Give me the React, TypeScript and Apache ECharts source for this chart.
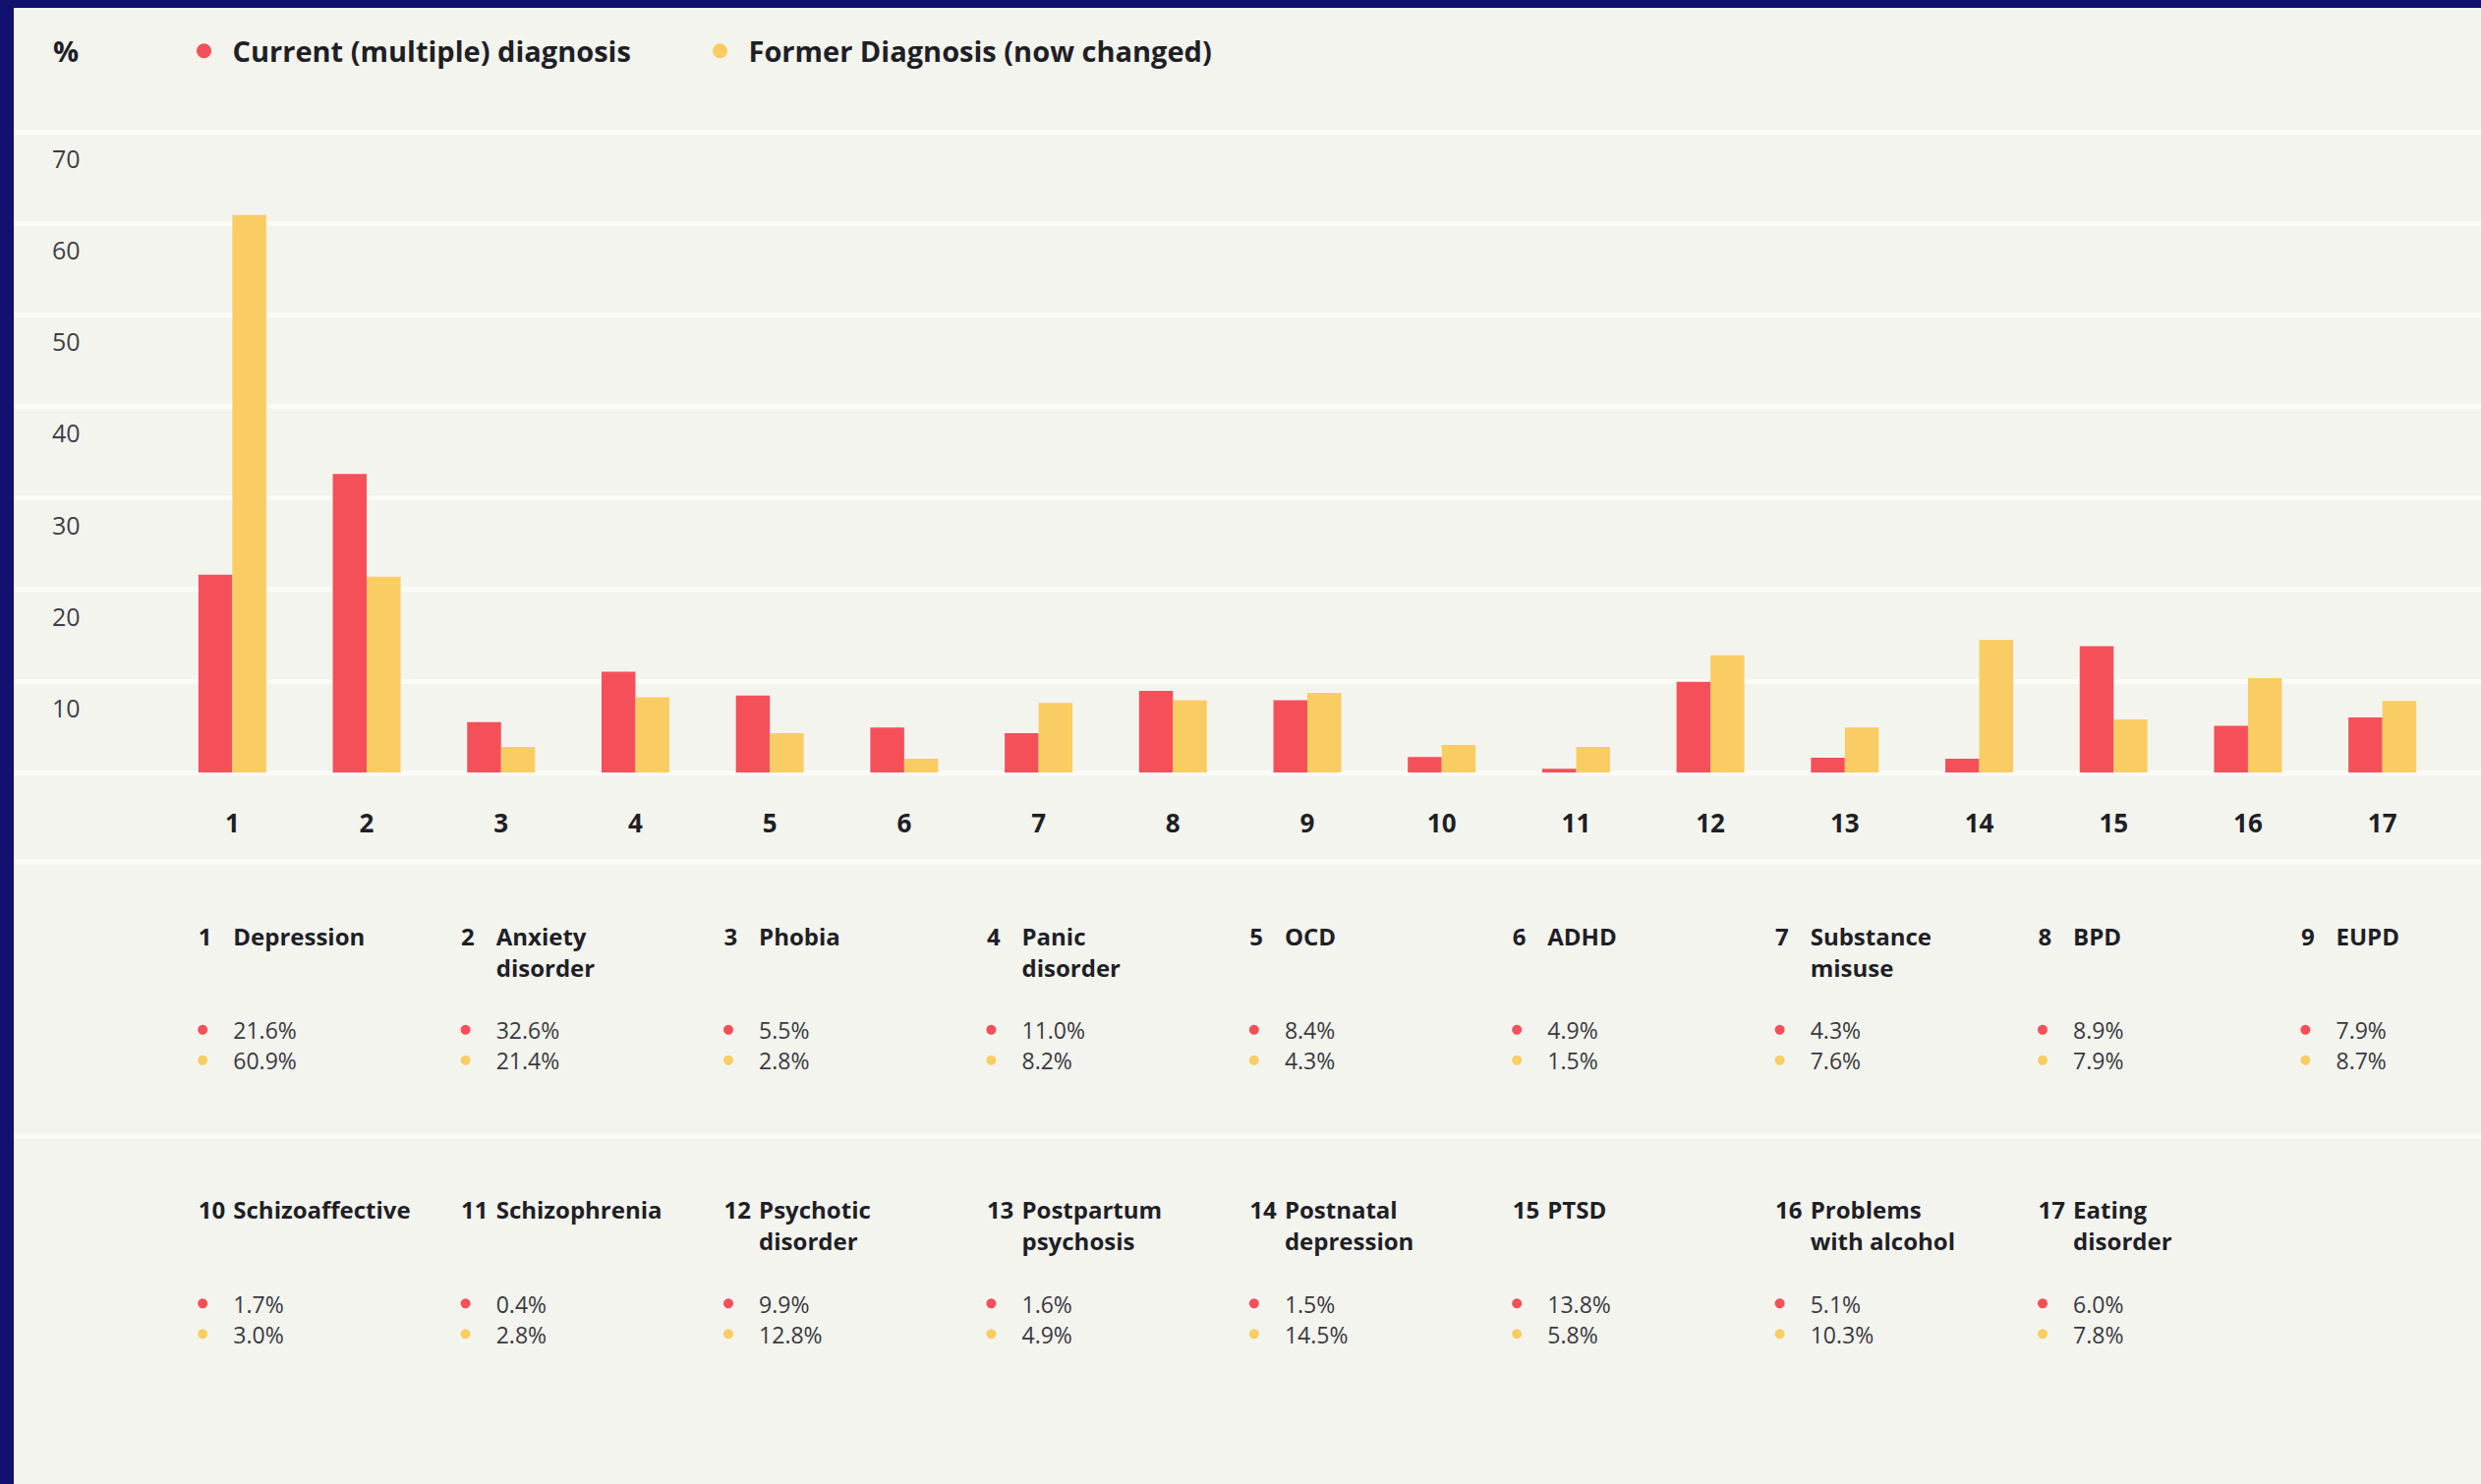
import React, { useEffect, useRef } from 'react';
import * as echarts from 'echarts';

// ---------- data ----------
const categories = ['1', '2', '3', '4', '5', '6', '7', '8', '9', '10', '11', '12', '13', '14', '15', '16', '17'];
const conditionNames: string[][] = [
  ['Depression'],
  ['Anxiety', 'disorder'],
  ['Phobia'],
  ['Panic', 'disorder'],
  ['OCD'],
  ['ADHD'],
  ['Substance', 'misuse'],
  ['BPD'],
  ['EUPD'],
  ['Schizoaffective'],
  ['Schizophrenia'],
  ['Psychotic', 'disorder'],
  ['Postpartum', 'psychosis'],
  ['Postnatal', 'depression'],
  ['PTSD'],
  ['Problems', 'with alcohol'],
  ['Eating', 'disorder'],
];
const currentValues = [21.6, 32.6, 5.5, 11.0, 8.4, 4.9, 4.3, 8.9, 7.9, 1.7, 0.4, 9.9, 1.6, 1.5, 13.8, 5.1, 6.0];
const formerValues = [60.9, 21.4, 2.8, 8.2, 4.3, 1.5, 7.6, 7.9, 8.7, 3.0, 2.8, 12.8, 4.9, 14.5, 5.8, 10.3, 7.8];
const seriesNames = ['Current (multiple) diagnosis', 'Former Diagnosis (now changed)'];
const yMin = 0;
const yMax = 70;
const yInterval = 10;
const unitLabel = '%';

// ---------- style ----------
const FONT = '"Open Sans", "Noto Sans", sans-serif';
const RED = '#f5505a';
const YELLOW = '#f9cd63';
const BG = '#f4f4ef';
const NAVY = '#13116e';
const GRID_LINE = '#fbfbf8';
const TITLE_COLOR = '#1f1f26';
const VALUE_COLOR = '#3a3a40';
const CENTRAL = 0.388; // central baseline offset (em) for Open Sans

const W = 2510;
const H = 1502;

export default function App() {
  const ref = useRef<HTMLDivElement>(null);

  useEffect(() => {
    if (!ref.current) return;
    const chart = echarts.init(ref.current, null, { renderer: 'svg' });

    const graphics: any[] = [];
    // unit label
    graphics.push({
      type: 'text',
      style: {
        text: unitLabel, x: 40, y: 55 - CENTRAL * 29,
        fontSize: 29, fontWeight: 'bold', fontFamily: FONT, fill: TITLE_COLOR,
        align: 'left', verticalAlign: 'middle', textAlign: 'left', textVerticalAlign: 'middle',
      },
    });
    // separators
    [869, 1148].forEach((y) => {
      graphics.push({
        type: 'line',
        shape: { x1: 0, y1: y, x2: W, y2: y },
        style: { stroke: GRID_LINE, lineWidth: 5 },
      });
    });

    // description table
    const COL0 = 187.7;
    const COL_STEP = 267.4;
    const ROW_STEP = 278.5;
    const TITLE_B0 = 953.7;
    const TITLE_GAP = 31.7;
    const VALUE_B0 = 1049.3;
    const VALUE_GAP = 31;
    const NAME_OFF = 35.6;
    const TFS = 24;
    const VFS = 23;
    const txt = (text: string, x: number, baseline: number, fs: number, bold: boolean, color: string) => ({
      type: 'text',
      style: {
        text, x, y: baseline - CENTRAL * fs,
        fontSize: fs, fontWeight: bold ? 'bold' : 'normal', fontFamily: FONT, fill: color,
        align: 'left', verticalAlign: 'middle', textAlign: 'left', textVerticalAlign: 'middle',
      },
    });
    categories.forEach((cat, i) => {
      const row = Math.floor(i / 9);
      const col = i % 9;
      const nx = COL0 + col * COL_STEP;
      const tb = TITLE_B0 + row * ROW_STEP;
      const vb = VALUE_B0 + row * ROW_STEP;
      graphics.push(txt(cat, nx, tb, TFS, true, TITLE_COLOR));
      conditionNames[i].forEach((line, li) => {
        graphics.push(txt(line, nx + NAME_OFF, tb + li * TITLE_GAP, TFS, true, TITLE_COLOR));
      });
      [currentValues[i], formerValues[i]].forEach((v, si) => {
        const b = vb + si * VALUE_GAP;
        graphics.push({
          type: 'circle',
          shape: { cx: nx + 4.5, cy: b - 9.5, r: 5 },
          style: { fill: si === 0 ? RED : YELLOW },
        });
        graphics.push(txt(v.toFixed(1) + '%', nx + NAME_OFF, b, VFS, false, VALUE_COLOR));
      });
    });

    const legendCommon = {
      orient: 'horizontal',
      top: 28.75,
      padding: 0,
      itemWidth: 48,
      itemHeight: 15,
      icon: 'circle',
      selectedMode: false,
      textStyle: { fontSize: 29, fontWeight: 'bold', fontFamily: FONT, color: TITLE_COLOR, lineHeight: 30 },
    };

    const option: any = {
      animation: false,
      backgroundColor: BG,
      textStyle: { fontFamily: FONT },
      legend: [
        { ...legendCommon, left: 186, data: [seriesNames[0]] },
        { ...legendCommon, left: 711, data: [seriesNames[1]] },
      ],
      grid: [
        { left: 0, right: 0, top: 126, height: 652, containLabel: false, outerBoundsMode: 'none' },
        { left: 154, width: 2324, top: 126, height: 652, containLabel: false, outerBoundsMode: 'none' },
      ],
      xAxis: [
        { type: 'value', gridIndex: 0, show: false, min: 0, max: 1 },
        {
          type: 'category', gridIndex: 1, data: categories,
          axisLine: { show: false }, axisTick: { show: false }, splitLine: { show: false },
          axisLabel: {
            show: true, interval: 0, margin: 38, fontSize: 26, fontWeight: 'bold',
            fontFamily: FONT, color: TITLE_COLOR, lineHeight: 26, verticalAlign: 'top',
          },
        },
      ],
      yAxis: [
        {
          type: 'value', gridIndex: 0, min: yMin, max: yMax, interval: yInterval,
          axisLine: { show: false }, axisTick: { show: false },
          splitLine: { show: true, showMinLine: true, showMaxLine: true, lineStyle: { color: GRID_LINE, width: 5 } },
          axisLabel: {
            show: true, inside: true, margin: 39, align: 'left', verticalAlign: 'top',
            padding: [14.5, 0, 0, 0], lineHeight: 25, fontSize: 25, fontFamily: FONT, color: '#3f3f46',
            showMinLabel: false,
            formatter: (v: number) => (v === yMin ? '' : String(v)),
          },
        },
        { type: 'value', gridIndex: 1, min: yMin, max: yMax, interval: yInterval, show: false, splitLine: { show: false } },
      ],
      series: [
        {
          name: seriesNames[0], type: 'bar', xAxisIndex: 1, yAxisIndex: 1,
          data: currentValues, barWidth: 34.5, barGap: '0%', itemStyle: { color: RED },
        },
        {
          name: seriesNames[1], type: 'bar', xAxisIndex: 1, yAxisIndex: 1,
          data: formerValues, barWidth: 34.5, barGap: '0%', itemStyle: { color: YELLOW },
        },
      ],
      graphic: { elements: graphics },
    };

    chart.setOption(option);
    return () => chart.dispose();
  }, []);

  return (
    <div style={{ position: 'fixed', left: 0, top: 0, width: 2524, height: 1510, background: NAVY, overflow: 'hidden' }}>
      <div ref={ref} style={{ position: 'absolute', left: 14, top: 8, width: W, height: H }} />
    </div>
  );
}
